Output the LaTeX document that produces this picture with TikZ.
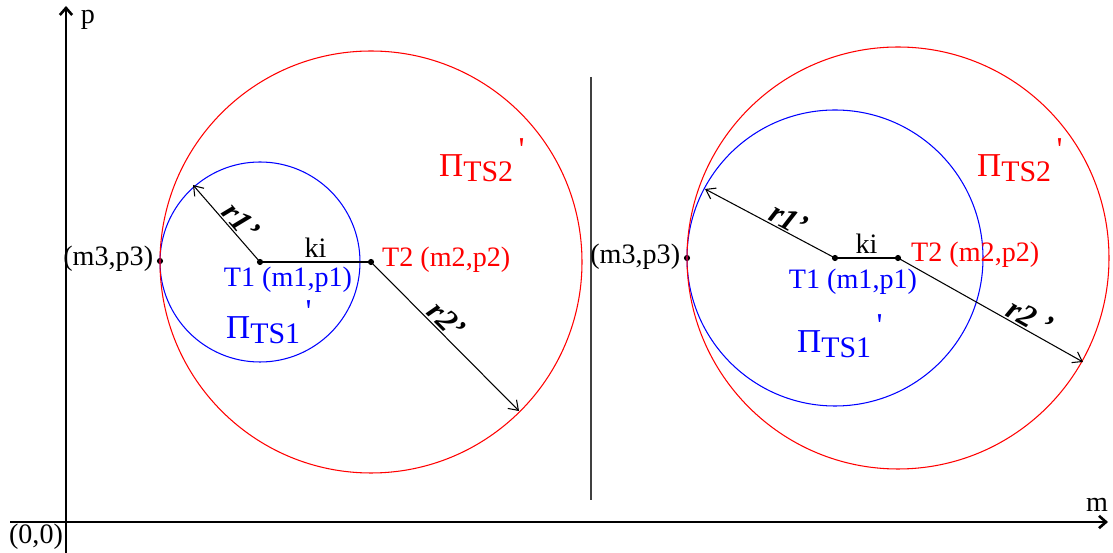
\documentclass[tikz,border=0pt]{standalone}
\usepackage{fontspec}
\setmainfont{Liberation Serif}
\usetikzlibrary{arrows.meta}

\newcommand{\PiTS}[1]{\fontsize{19}{22}\selectfont Π\raisebox{-0.3ex}{\fontsize{17}{20}\selectfont TS#1}\,\raisebox{1.1ex}{\textquotesingle}}
\newcommand{\rlab}[1]{\fontsize{18}{21}\selectfont\textbf{\textit{#1}}}

\begin{document}
\begin{tikzpicture}[x=0.02cm,y=-0.02cm,font=\fontsize{16}{19}\selectfont,
  radius arrow/.style={-{Straight Barb[length=5pt,width=7pt]}, line width=0.6pt},
  axis/.style={-{Straight Barb[length=4pt,width=7pt]}, line width=1.5pt},
  dot/.style={circle, fill=black, inner sep=0pt, minimum size=3.5pt}]
\useasboundingbox (0,0) rectangle (1113,553);

% Axes
\coordinate (ybot) at (66,553);
\coordinate (ytop) at (66,6);
\coordinate (xleft) at (10,522);
\coordinate (xright) at (1108,522);
\draw[axis] (ybot) -- (ytop);
\draw[axis] (xleft) -- (xright);
\node (plab) at (88,20) {p};
\node (mlab) at (1097,505) {m};
\node (olab) at (36,537) {(0,0)};

% Separator
\coordinate (sep1) at (591,77);
\coordinate (sep2) at (591,500);
\draw[black!75, line width=0.9pt] (sep1) -- (sep2);

% Left case
\node[dot] (T1a) at (260,262) {};
\node[dot] (T2a) at (371,262) {};
\node[dot] (M3a) at (160,261) {};
\draw[blue, line width=0.6pt] (T1a.center) circle (100);
\draw[red, line width=0.6pt] (T2a.center) circle (211);
\coordinate (R1a) at (193,185);
\coordinate (R2a) at (519,411);
\draw[line width=0.6pt] (T1a) -- node[above, yshift=-1pt] (kia) {ki} (T2a);
\draw[radius arrow] (T1a.center) -- node[sloped, above, pos=0.42, inner sep=1pt] (r1a) {\rlab{r1’}} (R1a);
\draw[radius arrow] (T2a.center) -- node[sloped, above, pos=0.45, inner sep=1pt] (r2a) {\rlab{r2’}} (R2a);
\node[blue] (T1alab) at (288,280) {T1 (m1,p1)};
\node[red, anchor=west] (T2alab) at (376,260) {T2 (m2,p2)};
\node[anchor=east, inner xsep=2pt] (M3alab) at (157,259) {(m3,p3)};
\node[blue, anchor=west] (P1a) at (220,322) {\PiTS{1}};
\node[red, anchor=west] (P2a) at (433,160) {\PiTS{2}};

% Right case
\node[dot] (T1b) at (835,258) {};
\node[dot] (T2b) at (898,258) {};
\node[dot] (M3b) at (687,258) {};
\draw[blue, line width=0.6pt] (T1b.center) circle (148);
\draw[red, line width=0.6pt] (T2b.center) circle (211);
\coordinate (R1b) at (705,189);
\coordinate (R2b) at (1083,362);
\draw[line width=0.6pt] (T1b) -- node[above, yshift=-1pt] (kib) {ki} (T2b);
\draw[radius arrow] (T1b.center) -- node[sloped, above, pos=0.4, inner sep=1pt] (r1b) {\rlab{r1’}} (R1b);
\draw[radius arrow] (T2b.center) -- node[sloped, above, pos=0.68, inner sep=1pt] (r2b) {\rlab{r2 ’}} (R2b);
\node[blue] (T1blab) at (853,282) {T1 (m1,p1)};
\node[red, anchor=west] (T2blab) at (905,255) {T2 (m2,p2)};
\node[anchor=east, inner xsep=2pt] (M3blab) at (684,257) {(m3,p3)};
\node[blue, anchor=west] (P1b) at (791,336) {\PiTS{1}};
\node[red, anchor=west] (P2b) at (971,160) {\PiTS{2}};

\end{tikzpicture}
\end{document}
